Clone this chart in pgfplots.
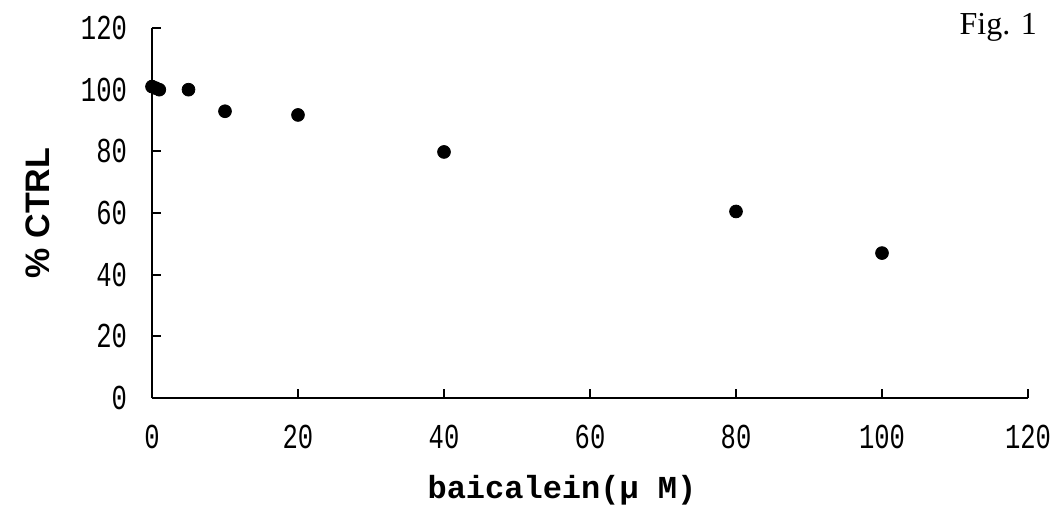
\documentclass[border=0pt]{standalone}
\usepackage{fontspec}
\setmainfont{Liberation Serif}
\newfontfamily\monofont{Liberation Mono}
\newfontfamily\tickfont[FakeStretch=0.73]{Liberation Mono}
\newfontfamily\sansfont{Liberation Sans}
\usepackage{pgfplots}
\pgfplotsset{compat=1.18}
\begin{document}
\begin{tikzpicture}
\useasboundingbox (-76pt,-60pt) rectangle (450pt,199pt);
\begin{axis}[
  at={(0pt,0pt)}, anchor=origin,
  scale only axis,
  width=438pt, height=185pt,
  xmin=0, xmax=120, ymin=0, ymax=120,
  xtick={0,20,...,120}, ytick={0,20,...,120},
  axis lines=left,
  axis line style={-, line width=1pt},
  tick style={line width=1pt, black},
  tick align=inside,
  major tick length=4.5pt,
  /pgf/number format/assume math mode=true,
  ticklabel style={font=\tickfont\fontsize{17.5}{19}\selectfont},
  xticklabel style={yshift=-10pt},
  yticklabel style={xshift=-9pt},
  xlabel={\monofont\bfseries baicalein(μ M)},
  xlabel style={font=\fontsize{16}{18}\selectfont, at={(axis description cs:0.468,0)}, anchor=center, yshift=-46pt},
  ylabel={\sansfont\bfseries \% CTRL},
  ylabel style={font=\fontsize{17}{19}\selectfont, at={(axis description cs:-0.13,0.5)}, anchor=center},
  clip=false,
]
\addplot[only marks, mark=*, mark size=3.2pt, black] coordinates {
  (0,101) (0.5,100.5) (1,100) (5,100) (10,93) (20,91.8) (40,79.8) (80,60.5) (100,47)
};
\end{axis}
\node[anchor=north east, font=\fontsize{16}{18}\selectfont] at (446pt,196pt) {Fig. 1};
\end{tikzpicture}
\end{document}
